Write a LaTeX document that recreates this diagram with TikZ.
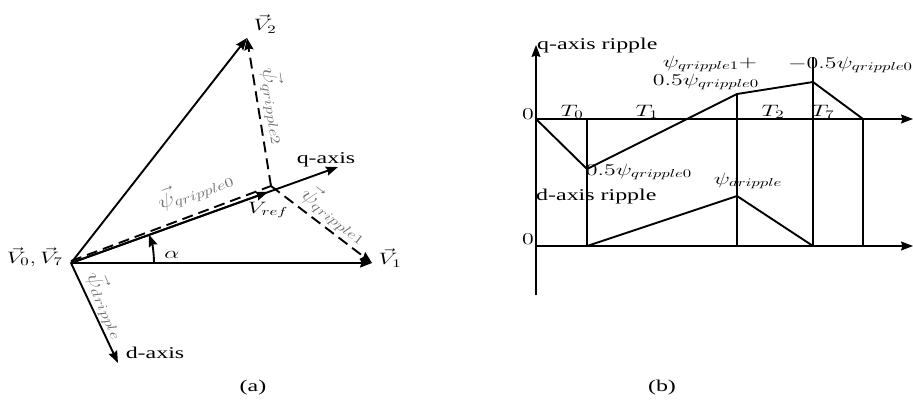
\RequirePackage{fix-cm}
\documentclass[tikz,border=0pt]{standalone}
\usepackage{fontspec}
\usetikzlibrary{arrows.meta}
\newfontfamily\tnr{Liberation Serif}
\newcommand{\sx}[1]{\scalebox{1.45}[1]{#1}}
\newcommand{\sg}[1]{\scalebox{1.45}[1.12]{#1}}
\tikzset{
  vec/.style={line width=1.9pt},
  thinax/.style={line width=1.1pt},
  arr/.style={-{Stealth[length=12pt,width=9pt,inset=1.5pt]}},
  dsh/.style={vec, dash pattern=on 11pt off 6pt},
  lbl/.style={font=\tnr\fontsize{16.5}{19}\selectfont, inner sep=0pt},
  mlbl/.style={font=\fontsize{16.5}{19}\selectfont, inner sep=0pt},
  glbl/.style={font=\fontsize{17}{20}\selectfont, inner sep=0pt, text=black!55},
}
\begin{document}
\begin{tikzpicture}[x=1pt,y=-1pt]
\useasboundingbox (0,0) rectangle (913,405);
% ---------- panel (a)
\coordinate (O) at (71,263);
\coordinate (V1) at (372,263);
\coordinate (V2) at (247,38);
\coordinate (Q) at (338,167);
\coordinate (R) at (268,192);
\coordinate (J) at (271,186);
\coordinate (D) at (118,363);
\coordinate (Os) at (71,261);
\draw[vec,arr] (O) -- (V1);
\draw[vec,arr] (O) -- (V2);
\draw[vec,arr] (O) -- (Q);
\draw[vec,arr] (O) -- (R);
\draw[vec,arr] (O) -- (D);
\draw[dsh] (Os) -- (J);
\draw[dsh,arr] (J) -- (V2);
\draw[dsh,arr] (J) -- (V1);
\draw[vec,arr] (O) ++(83,0) arc[start angle=0,end angle=-20,radius=83];
\node[mlbl] (lV2) at (265,24) {\sx{$\vec V_2$}};
\node[mlbl] (lV1) at (390,258) {\sx{$\vec V_1$}};
\node[mlbl,anchor=east] (lV07) at (63,257) {\sx{$\vec V_0,\vec V_7$}};
\node[mlbl] (lal) at (172,255) {\sx{$\alpha$}};
\node[mlbl] (lref) at (268,210) {\sx{$V_{ref}$}};
\node[lbl] (lq) at (326,160) {\sx{q-axis}};
\node[lbl] (ld) at (155,353) {\sx{d-axis}};
\node[glbl,rotate=20] (lp0) at (195,190) {\sg{$\vec\psi_{qripple0}$}};
\node[glbl,rotate=-81] (lp2) at (275,106) {\sg{$\vec\psi_{qripple2}$}};
\node[glbl,rotate=-38] (lp1) at (335,215) {\sg{$\vec\psi_{qripple1}$}};
\node[glbl,rotate=-66] (lpd) at (107,305) {\sg{$\vec\psi_{dripple}$}};
\node[lbl] (la) at (253,388) {\sx{(a)}};
% ---------- panel (b)
\coordinate (Ytop) at (536,45);
\coordinate (Ybot) at (536,295);
\coordinate (U0) at (536,119);
\coordinate (UE) at (913,119);
\coordinate (L0) at (536,246);
\coordinate (LE) at (913,246);
\draw[thinax,arr] (Ybot) -- (Ytop);
\draw[thinax,arr] (U0) -- (UE);
\draw[thinax,arr] (L0) -- (LE);
\coordinate (a1) at (587,119); \coordinate (b1) at (587,246);
\coordinate (a2) at (737,94);  \coordinate (b2) at (737,246);
\coordinate (a3) at (813,57);  \coordinate (b3) at (813,246);
\coordinate (a4) at (863,119); \coordinate (b4) at (863,246);
\draw[thinax] (a1) -- (b1);
\draw[thinax] (a2) -- (b2);
\draw[thinax] (a3) -- (b3);
\draw[thinax] (a4) -- (b4);
\draw[vec,line join=round] (U0) -- (587,169) -- (737,94) -- (813,82) -- (863,119);
\draw[vec,line join=round] (L0) -- (587,246) -- (737,196) -- (813,246) -- (863,246);
\node[lbl,anchor=west] (lqr) at (537,46) {\sx{q-axis ripple}};
\node[lbl,anchor=west] (ldr) at (536,197) {\sx{d-axis ripple}};
\node[mlbl] (z1) at (528,114) {\sx{$0$}};
\node[mlbl] (z2) at (528,239) {\sx{$0$}};
\node[mlbl] (t0) at (572,112) {\sx{$T_0$}};
\node[mlbl] (t1) at (647,112) {\sx{$T_1$}};
\node[mlbl] (t2) at (773,112) {\sx{$T_2$}};
\node[mlbl] (t7) at (823,112) {\sx{$T_7$}};
\node[mlbl] (q1) at (710,64) {\sx{$\psi_{qripple1}+$}};
\node[mlbl] (q0a) at (706,82) {\sx{$0.5\psi_{qripple0}$}};
\node[mlbl,anchor=east] (q0b) at (913,65) {\sx{$-0.5\psi_{qripple0}$}};
\node[mlbl] (q0c) at (639,172) {\sx{$0.5\psi_{qripple0}$}};
\node[mlbl] (dr) at (748,181) {\sx{$\psi_{dripple}$}};
\node[lbl] (lb) at (662,388) {\sx{(b)}};
\end{tikzpicture}
\end{document}
